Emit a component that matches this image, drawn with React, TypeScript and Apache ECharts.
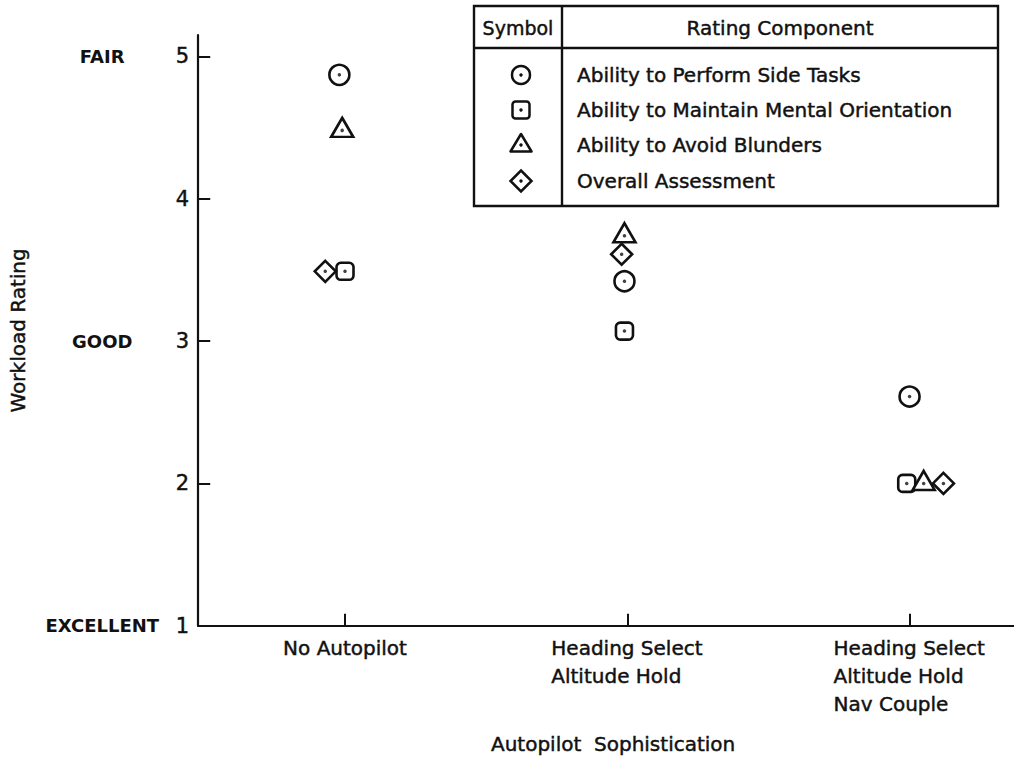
import React, { useEffect, useRef } from "react";
import * as echarts from "echarts";

// Autopilot configurations along the horizontal axis (multi-line names)
const categories = [
  "No Autopilot",
  "Heading Select\nAltitude Hold",
  "Heading Select\nAltitude Hold\nNav Couple",
];

// Rating components (legend rows, in table order)
const components = [
  "Ability to Perform Side Tasks",
  "Ability to Maintain Mental Orientation",
  "Ability to Avoid Blunders",
  "Overall Assessment",
];

// Horizontal positions (category index, slightly staggered) and ratings
const sideTasksX = [0.98, 1.99, 3.0];
const sideTasks = [4.87, 3.42, 2.61];

const orientationX = [1.0, 1.99, 2.99];
const orientation = [3.49, 3.07, 2.0];

const blundersX = [0.99, 1.99, 3.05];
const blunders = [4.48, 3.74, 2.0];

const overallX = [0.93, 1.98, 3.12];
const overall = [3.49, 3.61, 2.0];

// Rating scale ticks and their verbal anchors
const ratingTicks = [1, 2, 3, 4, 5];
const ratingWords: Record<number, string> = { 5: "FAIR", 3: "GOOD", 1: "EXCELLENT" };
const categoryTicks = [1, 2, 3];

const FONT = "DejaVu Sans";
const INK = "#111";
// slight outline that gives the lettering a heavier, pen-drawn weight
const heavy = { textBorderColor: INK, textBorderWidth: 0.45 };

type Mark = {
  name: string;
  xs: number[];
  ys: number[];
  symbol: string;
  size: number | number[];
  offset: number[];
};

const marks: Mark[] = [
  { name: components[0], xs: sideTasksX, ys: sideTasks, symbol: "circle", size: 20, offset: [0, 0] },
  { name: components[1], xs: orientationX, ys: orientation, symbol: "roundRect", size: 17, offset: [0, 0] },
  { name: components[2], xs: blundersX, ys: blunders, symbol: "triangle", size: [22, 19], offset: [0, -3] },
  { name: components[3], xs: overallX, ys: overall, symbol: "diamond", size: 21, offset: [0, 0] },
];

function buildSeries() {
  const out: any[] = [];
  marks.forEach((m, i) => {
    const data = m.xs.map((x, k) => [x, m.ys[k]]);
    out.push({
      name: m.name,
      type: "scatter",
      data,
      symbol: m.symbol,
      symbolSize: m.size,
      symbolOffset: m.offset,
      silent: true,
      z: 3 + i,
      itemStyle: { color: "#fff", borderColor: INK, borderWidth: 2.6, opacity: 1 },
    });
    out.push({
      name: m.name + " centre",
      type: "scatter",
      data,
      symbol: "circle",
      symbolSize: 3.5,
      silent: true,
      z: 3 + i,
      itemStyle: { color: INK },
    });
  });
  return out;
}

// Table-style key in the upper right corner
function buildKey() {
  const left = 474;
  const top = 6;
  const right = 998;
  const bottom = 206;
  const divX = 562;
  const headY = 48;
  const symX = 521;
  const rowYs = [75, 110, 145, 181];
  const stroke = { stroke: INK, lineWidth: 2.4 };
  const txt = (text: string, x: number, y: number, size: number, align: string) => ({
    type: "text",
    x,
    y,
    style: { text, font: `${size}px ${FONT}`, fill: INK, stroke: INK, lineWidth: 0.45, align, verticalAlign: "middle" },
  });
  const els: any[] = [
    { type: "rect", shape: { x: left, y: top, width: right - left, height: bottom - top }, style: { fill: "#fff", ...stroke } },
    { type: "line", shape: { x1: left, y1: headY, x2: right, y2: headY }, style: stroke },
    { type: "line", shape: { x1: divX, y1: top, x2: divX, y2: bottom }, style: stroke },
    txt("Symbol", (left + divX) / 2, (top + headY) / 2 + 1, 19, "center"),
    txt("Rating Component", (divX + right) / 2, (top + headY) / 2 + 1, 20, "center"),
  ];
  const sym = { fill: "#fff", stroke: INK, lineWidth: 2.5 };
  const dot = (y: number) => ({ type: "circle", shape: { cx: symX, cy: y, r: 1.7 }, style: { fill: INK } });
  els.push({ type: "circle", shape: { cx: symX, cy: rowYs[0], r: 9 }, style: sym }, dot(rowYs[0]));
  els.push({ type: "rect", shape: { x: symX - 8.5, y: rowYs[1] - 8.5, width: 17, height: 17, r: 3 }, style: sym }, dot(rowYs[1]));
  els.push(
    { type: "polygon", shape: { points: [[symX, rowYs[2] - 11], [symX - 10.5, rowYs[2] + 6.5], [symX + 10.5, rowYs[2] + 6.5]] }, style: { ...sym, lineJoin: "round" } },
    dot(rowYs[2])
  );
  els.push(
    { type: "polygon", shape: { points: [[symX, rowYs[3] - 10.5], [symX + 10.5, rowYs[3]], [symX, rowYs[3] + 10.5], [symX - 10.5, rowYs[3]]] }, style: sym },
    dot(rowYs[3])
  );
  components.forEach((name, i) => els.push(txt(name, 577, rowYs[i], 20, "left")));
  return { type: "group", z: 20, children: els };
}

export default function App() {
  const ref = useRef<HTMLDivElement>(null);

  useEffect(() => {
    if (!ref.current) return;
    const chart = echarts.init(ref.current, null, { renderer: "svg" });
    chart.setOption({
      animation: false,
      backgroundColor: "#fff",
      grid: { left: 197, right: 0, top: 35, bottom: 133, containLabel: false },
      xAxis: {
        type: "value",
        min: 0.48,
        max: 3.37,
        name: "Autopilot  Sophistication",
        nameLocation: "middle",
        nameGap: 108,
        nameTextStyle: { fontFamily: FONT, fontSize: 20, color: INK, ...heavy, padding: [0, 0, 0, 14] },
        splitLine: { show: false },
        axisLine: { lineStyle: { color: INK, width: 2.2 } },
        axisTick: { customValues: categoryTicks, inside: true, length: 12, lineStyle: { color: INK, width: 2 } },
        axisLabel: {
          customValues: categoryTicks,
          margin: 8,
          color: INK,
          formatter: (v: number) => {
            const lines = categories[Math.round(v) - 1].split("\n");
            if (lines.length === 1) return `{c|${lines[0]}}`;
            return lines.map((l) => `{l|${l}}`).join("\n");
          },
          rich: {
            c: { fontFamily: FONT, fontSize: 20, lineHeight: 28, color: INK, ...heavy },
            l: { fontFamily: FONT, fontSize: 20, lineHeight: 28, color: INK, width: 152, align: "left", ...heavy },
          },
        },
      },
      yAxis: {
        type: "value",
        min: 1,
        max: 5.15,
        name: "Workload Rating",
        nameLocation: "middle",
        nameGap: 170,
        nameTextStyle: { fontFamily: FONT, fontSize: 20, color: INK, ...heavy },
        splitLine: { show: false },
        axisLine: { lineStyle: { color: INK, width: 2.2 } },
        axisTick: { customValues: ratingTicks, inside: true, length: 12, lineStyle: { color: INK, width: 2 } },
        axisLabel: {
          customValues: ratingTicks,
          margin: 9,
          color: INK,
          formatter: (v: number) => {
            const word = ratingWords[v];
            return word ? `{w|${word}}{n|${v}}` : `{n|${v}}`;
          },
          rich: {
            w: { fontFamily: FONT, fontSize: 18, fontWeight: "bold", color: INK, width: 122, align: "center" },
            n: { fontFamily: FONT, fontSize: 21, color: INK, width: 26, align: "right", ...heavy },
          },
        },
      },
      graphic: [buildKey()],
      series: buildSeries(),
    });
    return () => chart.dispose();
  }, []);

  return <div ref={ref} style={{ position: "absolute", left: 0, top: 0, width: 1014, height: 759 }} />;
}
